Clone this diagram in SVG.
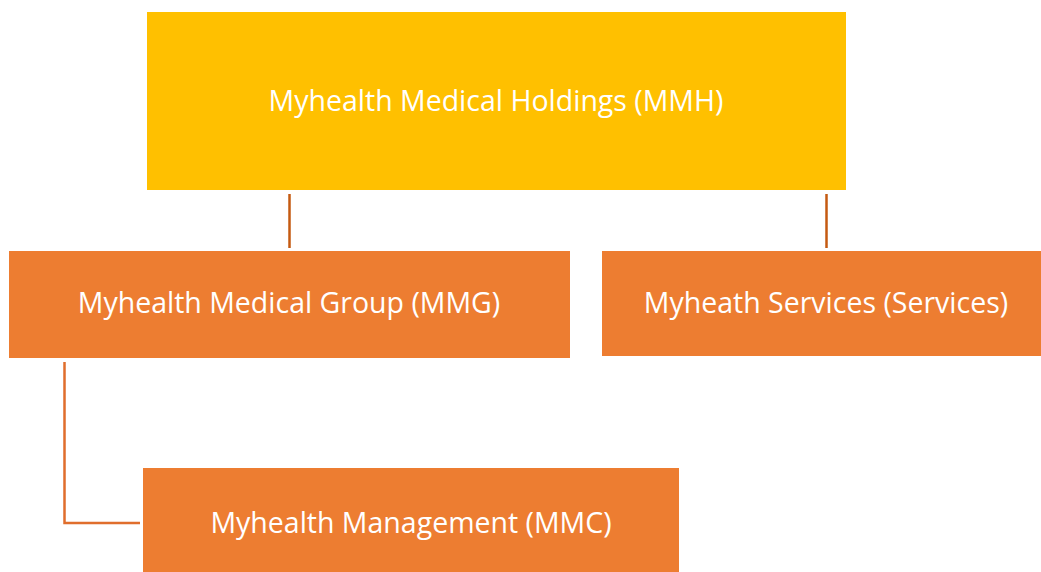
<svg xmlns="http://www.w3.org/2000/svg" width="1041" height="572" viewBox="0 0 1041 572">
<style>
.lbl{font-family:"Open Sans","Liberation Sans",sans-serif;font-size:28.5px;fill:#ffffff;text-anchor:middle}
.orange{fill:#ED7D31}
.conn{fill:none;stroke:#C55A11;stroke-width:2.5}
</style>
<rect width="1041" height="572" fill="#ffffff"/>
<g id="connectors">
<line class="conn" x1="289.5" y1="194" x2="289.5" y2="248"/>
<line class="conn" x1="826.5" y1="194" x2="826.5" y2="248"/>
<polyline class="conn" style="stroke:#E06E2C" points="64.5,362 64.5,523 140,523"/>
</g>
<g id="mmh">
<rect x="147" y="12" width="699" height="178" fill="#FFC000"/>
<text class="lbl" x="496" y="111">Myhealth Medical Holdings (MMH)</text>
</g>
<g id="mmg">
<rect class="orange" x="9" y="251" width="561" height="107"/>
<text class="lbl" x="289" y="313">Myhealth Medical Group (MMG)</text>
</g>
<g id="services">
<rect class="orange" x="602" y="251" width="439" height="105"/>
<text class="lbl" x="826" y="313">Myheath Services (Services)</text>
</g>
<g id="mmc">
<rect class="orange" x="143" y="468" width="536" height="104"/>
<text class="lbl" x="411" y="533">Myhealth Management (MMC)</text>
</g>
</svg>
